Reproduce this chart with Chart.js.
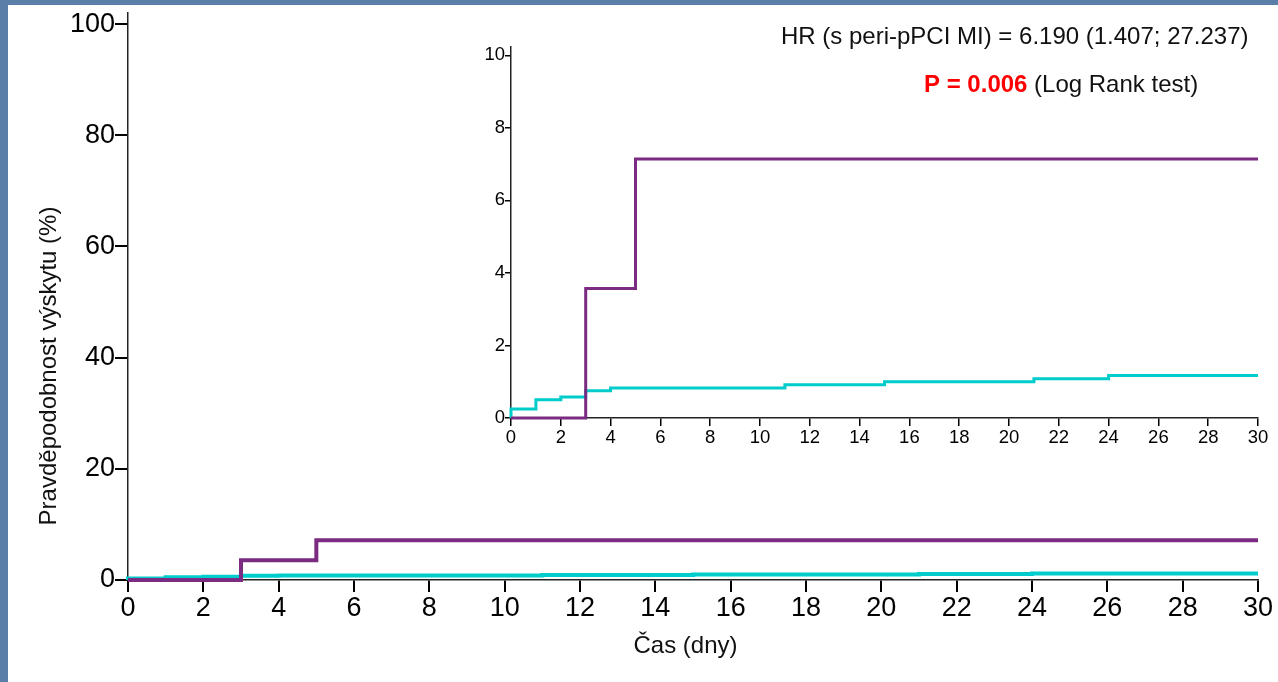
<!DOCTYPE html>
<html>
<head>
<meta charset="utf-8">
<script src="https://cdn.jsdelivr.net/npm/chart.js@4.4.1/dist/chart.umd.min.js"></script>
<style>
  html, body { margin: 0; padding: 0; }
  body { width: 1278px; height: 682px; background: #5b7ea8; position: relative; overflow: hidden; }
  #sheet { position: absolute; left: 8px; top: 5px; right: 0; bottom: 0; background: #fff; }
  canvas { position: absolute; left: 0; top: 0; }
</style>
</head>
<body>
<div id="sheet"></div>
<canvas id="mainChart" width="1278" height="682"></canvas>
<canvas id="insetChart" width="1278" height="682"></canvas>
<script>
"use strict";

// days on the x axis, and the tick labels of both charts
const dayTicks = [0, 2, 4, 6, 8, 10, 12, 14, 16, 18, 20, 22, 24, 26, 28, 30];
const mainYTicks = [0, 20, 40, 60, 80, 100];
const insetYTicks = [0, 2, 4, 6, 8, 10];

// cumulative incidence (%) - with peri-procedural MI
const periDays = [0, 3, 5, 30];
const periValues = [0, 3.57, 7.14, 7.14];

// cumulative incidence (%) - without peri-procedural MI
const otherDays = [0, 0, 1, 2, 3, 4, 11, 15, 21, 24, 30];
const otherValues = [0, 0.25, 0.5, 0.58, 0.75, 0.83, 0.92, 1.0, 1.08, 1.17, 1.17];

const yTitle = "Pravděpodobnost výskytu (%)";
const xTitle = "Čas (dny)";
const hrText = "HR (s peri-pPCI MI) = 6.190 (1.407; 27.237)";
const pText = "P = 0.006";
const testText = " (Log Rank test)";

const purple = "#7b2b81";
const cyan = "#00cccc";
const ink = "#111";
const fontFamily = "Arial, 'Liberation Sans', sans-serif";

function toPoints(days, values) {
   return days.map((d, i) => ({ x: d, y: values[i] }));
}

function makeDatasets(width) {
   return [
      {
         data: toPoints(periDays, periValues),
         borderColor: purple,
         borderWidth: width,
         stepped: "before",
         pointRadius: 0,
         order: 0,
         clip: false,
      },
      {
         data: toPoints(otherDays, otherValues),
         borderColor: cyan,
         borderWidth: width,
         stepped: "before",
         pointRadius: 0,
         order: 1,
         clip: false,
      },
   ];
}

function axis(opts) {
   return {
      type: "linear",
      min: 0,
      max: opts.max,
      border: { display: true, color: "#222", width: 1.5 },
      grid: {
         display: true,
         drawOnChartArea: false,
         drawTicks: true,
         tickLength: opts.tickLength,
         color: "#000",
         lineWidth: opts.tickWidth,
      },
      ticks: {
         color: "#000",
         padding: opts.padding,
         maxRotation: 0,
         autoSkip: false,
         font: { family: fontFamily, size: opts.fontSize },
      },
      afterBuildTicks: (s) => {
         s.ticks = opts.ticks.map((v) => ({ value: v }));
      },
      afterFit: (s) => {
         if (opts.width) s.width = opts.width;
         if (opts.height) s.height = opts.height;
         s.paddingTop = 0;
         s.paddingBottom = 0;
         s.paddingLeft = 0;
         s.paddingRight = 0;
      },
   };
}

const textPlugin = {
   id: "slideText",
   afterDraw(chart) {
      const ctx = chart.ctx;
      ctx.save();
      ctx.fillStyle = ink;
      ctx.textBaseline = "alphabetic";
      ctx.font = "24px " + fontFamily;

      ctx.textAlign = "left";
      ctx.fillText(hrText, 781, 44);

      ctx.font = "bold 24px " + fontFamily;
      ctx.fillStyle = "#ff0000";
      ctx.fillText(pText, 924, 92);
      const pw = ctx.measureText(pText).width;
      ctx.font = "24px " + fontFamily;
      ctx.fillStyle = ink;
      ctx.fillText(testText, 924 + pw, 92);

      ctx.textAlign = "center";
      ctx.fillText(xTitle, 685.5, 653);

      ctx.translate(56, 366);
      ctx.rotate(-Math.PI / 2);
      ctx.fillText(yTitle, 0, 0);
      ctx.restore();
   },
};

const baseOptions = {
   responsive: false,
   animation: false,
   events: [],
   plugins: { legend: { display: false }, tooltip: { enabled: false } },
};

const mainChart = new Chart(document.getElementById("mainChart"), {
   type: "line",
   data: { datasets: makeDatasets(4) },
   options: {
      ...baseOptions,
      layout: { padding: { top: 13, right: 20, left: 0, bottom: 0 } },
      scales: {
         x: axis({ max: 30, ticks: dayTicks, tickLength: 12, tickWidth: 2, padding: 0, fontSize: 27, height: 102 }),
         y: axis({ max: 102, ticks: mainYTicks, tickLength: 13, tickWidth: 2, padding: 0, fontSize: 27, width: 128 }),
      },
   },
   plugins: [textPlugin],
});

const insetChart = new Chart(document.getElementById("insetChart"), {
   type: "line",
   data: { datasets: makeDatasets(3) },
   options: {
      ...baseOptions,
      layout: { padding: { top: 47, right: 20, left: 0, bottom: 0 } },
      scales: {
         x: axis({ max: 30, ticks: dayTicks, tickLength: 8, tickWidth: 1.5, padding: 1, fontSize: 18.5, height: 264 }),
         y: axis({ max: 10.23, ticks: insetYTicks, tickLength: 6, tickWidth: 1.5, padding: 0, fontSize: 18.5, width: 511 }),
      },
   },
});
</script>
</body>
</html>
